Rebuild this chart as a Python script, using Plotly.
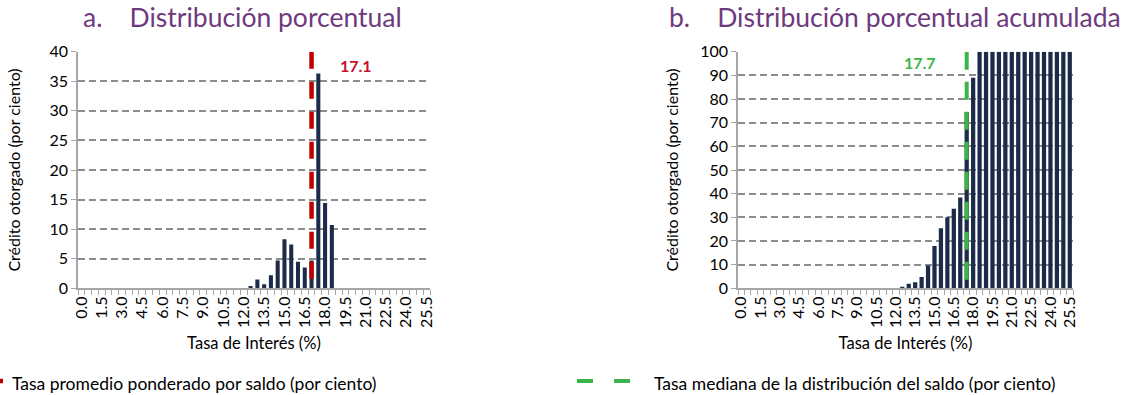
import plotly.graph_objects as go

# Interest rate categories (%)
rates = [0.0, 0.5, 1.0, 1.5, 2.0, 2.5, 3.0, 3.5, 4.0, 4.5, 5.0, 5.5, 6.0, 6.5,
         7.0, 7.5, 8.0, 8.5, 9.0, 9.5, 10.0, 10.5, 11.0, 11.5, 12.0, 12.5,
         13.0, 13.5, 14.0, 14.5, 15.0, 15.5, 16.0, 16.5, 17.0, 17.5, 18.0,
         18.5, 19.0, 19.5, 20.0, 20.5, 21.0, 21.5, 22.0, 22.5, 23.0, 23.5,
         24.0, 24.5, 25.0, 25.5]

# a. percentage distribution of credit by rate
pct = [0, 0, 0, 0, 0, 0, 0, 0, 0, 0, 0, 0, 0, 0, 0, 0, 0, 0, 0, 0, 0, 0, 0, 0, 0,
       0.4, 1.5, 0.7, 2.2, 4.7, 8.3, 7.4, 4.5, 3.5, 4.7, 36.3, 14.4, 10.7,
       0, 0, 0, 0, 0, 0, 0, 0, 0, 0, 0, 0, 0, 0]

# b. cumulative percentage distribution
cum_pct = [0, 0, 0, 0, 0, 0, 0, 0, 0, 0, 0, 0, 0, 0, 0, 0, 0, 0, 0, 0, 0, 0, 0, 0, 0,
           0.4, 1.9, 2.6, 4.8, 9.6, 17.9, 25.4, 30.0, 33.6, 38.4, 74.5, 89.0,
           100, 100, 100, 100, 100, 100, 100, 100, 100, 100, 100, 100, 100, 100, 100]

# reference lines (position drawn, label shown)
mean_pos, mean_label = 17.0, "17.1"
median_pos, median_label = 17.5, "17.7"

tick_vals = [0.0, 1.5, 3.0, 4.5, 6.0, 7.5, 9.0, 10.5, 12.0, 13.5, 15.0,
             16.5, 18.0, 19.5, 21.0, 22.5, 24.0, 25.5]
tick_text = [f"{v:.1f}" for v in tick_vals]

FONT = "Lato"
NAVY = "#1D2B4A"
GRID = "#8C8C8C"
AXIS = "#A6A6A6"
PURPLE = "#6E3A7E"
RED = "#C00000"
GREEN = "#3CB548"

W, H = 1133, 395

fig = go.Figure()

fig.add_trace(go.Bar(x=rates, y=pct, width=0.3, marker_color=NAVY,
                     marker_line_width=0, xaxis="x", yaxis="y", showlegend=False))
# drawn top-down so the dash pattern starts at the top like the original
fig.add_trace(go.Scatter(x=[mean_pos, mean_pos], y=[40, 0], mode="lines",
                         line=dict(color=RED, width=4.5, dash="17px,13px"),
                         xaxis="x", yaxis="y", showlegend=False))

fig.add_trace(go.Bar(x=rates, y=cum_pct, width=0.33, marker_color=NAVY,
                     marker_line_width=0, xaxis="x2", yaxis="y2", showlegend=False))
fig.add_trace(go.Scatter(x=[median_pos, median_pos], y=[100, 0], mode="lines",
                         line=dict(color=GREEN, width=4, dash="18px,12px"),
                         xaxis="x2", yaxis="y2", showlegend=False))

xaxis_common = dict(
    range=[-0.25, 25.75], tickmode="array", tickvals=tick_vals, ticktext=tick_text,
    tickangle=-90, ticks="", showgrid=False, zeroline=False, automargin=False,
    showline=True, linecolor=AXIS, linewidth=1.5,
    tickfont=dict(family=FONT, size=16, color="black"),
    minor=dict(tickmode="linear", tick0=-0.25, dtick=0.5, ticks="outside",
               ticklen=5, tickcolor=AXIS, tickwidth=1, showgrid=False),
    title=dict(text="Tasa de Interés (%)", font=dict(family=FONT, size=16.5, color="black"),
               standoff=10),
)
yaxis_common = dict(
    showline=True, linecolor=AXIS, linewidth=1.5, ticks="outside", ticklen=5,
    tickcolor=AXIS, showgrid=True, gridcolor=GRID, gridwidth=1.5, griddash="7px,4px",
    zeroline=False, automargin=False, tickfont=dict(family=FONT, size=16, color="black"),
)
ytitle = "Crédito otorgado (por ciento)"
ytitle_font = dict(family=FONT, size=16, color="black")

y_dom = [1 - 288.3 / H, 1 - 51.7 / H]

fig.update_layout(
    width=W, height=H,
    margin=dict(l=0, r=0, t=0, b=0, autoexpand=False),
    plot_bgcolor="white", paper_bgcolor="white",
    font=dict(family=FONT, color="black"),
    xaxis=dict(domain=[78 / W, 430 / W], anchor="y", **xaxis_common),
    yaxis=dict(domain=y_dom, anchor="x", range=[0, 40], dtick=5,
               title=dict(text=ytitle, font=ytitle_font, standoff=25), **yaxis_common),
    xaxis2=dict(domain=[738 / W, 1073 / W], anchor="y2", **xaxis_common),
    yaxis2=dict(domain=y_dom, anchor="x2", range=[0, 100], dtick=10,
                title=dict(text=ytitle, font=ytitle_font, standoff=18), **yaxis_common),
)

# Panel titles
fig.add_annotation(text="a.\u00a0\u00a0\u00a0\u00a0Distribución porcentual",
                   x=242 / W, y=1 - 17 / H, xref="paper", yref="paper",
                   xanchor="center", yanchor="middle",
                   showarrow=False, font=dict(family=FONT, size=26.5, color=PURPLE))
fig.add_annotation(text="b.\u00a0\u00a0\u00a0\u00a0Distribución porcentual acumulada",
                   x=895 / W, y=1 - 17 / H, xref="paper", yref="paper",
                   xanchor="center", yanchor="middle",
                   showarrow=False, font=dict(family=FONT, size=26.5, color=PURPLE))

# Line value labels
fig.add_annotation(text=f"<b>{mean_label}</b>", x=20.3, y=37.6, xref="x", yref="y",
                   xanchor="center", yanchor="middle", showarrow=False,
                   font=dict(family=FONT, size=16, color="#C8102E"))
fig.add_annotation(text=f"<b>{median_label}</b>", x=13.9, y=95.5, xref="x2", yref="y2",
                   xanchor="center", yanchor="middle", showarrow=False,
                   font=dict(family=FONT, size=16, color=GREEN))

# Legend (drawn below the panels)
fig.add_shape(type="line", xref="paper", yref="paper", x0=-5 / W, x1=3 / W,
              y0=1 - 381 / H, y1=1 - 381 / H, line=dict(color=RED, width=4.5))
fig.add_annotation(text="Tasa promedio ponderado por saldo (por ciento)",
                   x=10 / W, y=1 - 383 / H, xref="paper", yref="paper",
                   xanchor="left", yanchor="middle",
                   showarrow=False, font=dict(family=FONT, size=17.5, color="black"))
fig.add_shape(type="line", xref="paper", yref="paper", x0=577 / W, x1=638 / W,
              y0=1 - 381 / H, y1=1 - 381 / H, line=dict(color=GREEN, width=4, dash="16px,21px"))
fig.add_annotation(text="Tasa mediana de la distribución del saldo (por ciento)",
                   x=652 / W, y=1 - 383 / H, xref="paper", yref="paper",
                   xanchor="left", yanchor="middle",
                   showarrow=False, font=dict(family=FONT, size=17.5, color="black"))

# drop the browser's default body margin so the figure sits at the page corner
fig.write_html("out.html", config={"displayModeBar": False},
               post_script="document.body.style.margin='0';")
